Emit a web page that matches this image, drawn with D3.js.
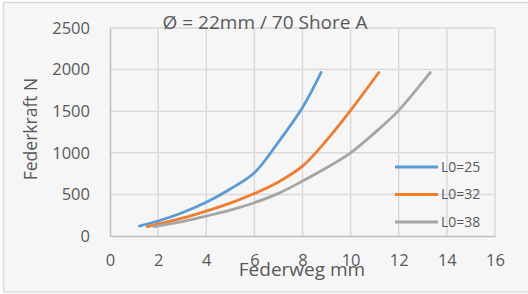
<!DOCTYPE html>
<html>
<head>
<meta charset="utf-8">
<script src="https://cdn.jsdelivr.net/npm/d3@7"></script>
<style>
  body { margin: 0; background: #fff; }
  text { font-family: "Open Sans", sans-serif; fill: #595959; }
</style>
</head>
<body>
<div id="chart"></div>
<script>
// chart size
var svgWidth = 528;
var svgHeight = 294;

var margin = { top: 28, right: 33, bottom: 58, left: 110 };
var width = svgWidth - margin.left - margin.right;
var height = svgHeight - margin.top - margin.bottom;

// data (Federweg mm, Federkraft N)
var seriesNames = ["L0=25", "L0=32", "L0=38"];
var seriesColors = ["#5b9bd5", "#ed7d31", "#a5a5a5"];
var x25 = [1.22, 2, 3, 4, 5, 6, 7, 8, 8.77];
var y25 = [120, 180, 280, 405, 565, 760, 1130, 1545, 1965];
var x32 = [1.55, 2, 3, 4, 5, 6, 7, 8, 9, 10, 11.17];
var y32 = [112, 145, 215, 300, 395, 510, 650, 840, 1150, 1510, 1965];
var x38 = [1.83, 2, 3, 4, 5, 6, 7, 8, 9, 10, 11, 12, 13.31];
var y38 = [112, 122, 172, 240, 312, 400, 512, 660, 820, 1000, 1240, 1510, 1965];
var xTicks = [0, 2, 4, 6, 8, 10, 12, 14, 16];
var yTicks = [0, 500, 1000, 1500, 2000, 2500];

var series = [
  x25.map((d, i) => [d, y25[i]]),
  x32.map((d, i) => [d, y32[i]]),
  x38.map((d, i) => [d, y38[i]])
];

var svg = d3.select("#chart")
  .append("svg")
  .attr("width", svgWidth)
  .attr("height", svgHeight);

// background + frame
svg.append("rect")
  .attr("x", 0).attr("y", 0)
  .attr("width", svgWidth).attr("height", svgHeight)
  .attr("fill", "#ffffff");
svg.append("rect")
  .attr("x", 3.5).attr("y", 2.5)
  .attr("width", svgWidth - 2).attr("height", svgHeight - 4.5)
  .attr("fill", "#f6f6f6")
  .attr("stroke", "#d9d9d9")
  .attr("stroke-width", 1.5);

var chartGroup = svg.append("g")
  .attr("transform", `translate(${margin.left}, ${margin.top})`);

var xScale = d3.scaleLinear().domain([0, 16]).range([0, width]);
var yScale = d3.scaleLinear().domain([0, 2500]).range([height, 0]);

// gridlines
chartGroup.append("g")
  .selectAll("line")
  .data(xTicks.slice(1))
  .enter()
  .append("line")
  .attr("x1", d => xScale(d)).attr("x2", d => xScale(d))
  .attr("y1", 0).attr("y2", height)
  .attr("stroke", "#d9d9d9")
  .attr("stroke-width", 1.5);

chartGroup.append("g")
  .selectAll("line")
  .data(yTicks.slice(1))
  .enter()
  .append("line")
  .attr("x1", 0).attr("x2", width)
  .attr("y1", d => yScale(d)).attr("y2", d => yScale(d))
  .attr("stroke", "#d9d9d9")
  .attr("stroke-width", 1.5);

// axes
var bottomAxis = d3.axisBottom(xScale).tickValues(xTicks).tickFormat(d3.format("d"))
  .tickSize(0).tickPadding(18);
var leftAxis = d3.axisLeft(yScale).tickValues(yTicks).tickFormat(d3.format("d"))
  .tickSize(0).tickPadding(20);

var xAxisG = chartGroup.append("g")
  .attr("transform", `translate(0, ${height})`)
  .call(bottomAxis);
var yAxisG = chartGroup.append("g").call(leftAxis);

[xAxisG, yAxisG].forEach(function(g) {
  g.select(".domain").attr("stroke", "#bfbfbf").attr("stroke-width", 1.5);
  g.selectAll("text")
    .style("font-family", "Open Sans")
    .attr("font-size", "16.5px")
    .attr("fill", "#595959");
});

// lines
var line = d3.line()
  .x(d => xScale(d[0]))
  .y(d => yScale(d[1]))
  .curve(d3.curveCatmullRom.alpha(0.5));

chartGroup.selectAll(".series")
  .data(series)
  .enter()
  .append("path")
  .attr("class", "series")
  .attr("d", line)
  .attr("fill", "none")
  .attr("stroke", (d, i) => seriesColors[i])
  .attr("stroke-width", 2.8)
  .attr("stroke-linecap", "round");

// legend
var legend = svg.append("g")
  .selectAll("g")
  .data(seriesNames)
  .enter()
  .append("g")
  .attr("transform", (d, i) => `translate(395, ${167 + i * 27.5})`);

legend.append("line")
  .attr("x1", 0).attr("x2", 43)
  .attr("stroke", (d, i) => seriesColors[i])
  .attr("stroke-width", 2.8);

legend.append("text")
  .attr("x", 46)
  .attr("dy", "0.35em")
  .attr("font-size", "14px")
  .text(d => d);

// title
svg.append("text")
  .attr("x", 265)
  .attr("y", 29)
  .attr("text-anchor", "middle")
  .attr("font-size", "19px")
  .text("Ø = 22mm / 70 Shore A");

// axis labels
svg.append("text")
  .attr("transform", "translate(37, 129) rotate(-90)")
  .attr("text-anchor", "middle")
  .attr("font-size", "17.5px")
  .text("Federkraft N");

svg.append("text")
  .attr("x", 302)
  .attr("y", 276)
  .attr("text-anchor", "middle")
  .attr("font-size", "19px")
  .text("Federweg mm");
</script>
</body>
</html>
